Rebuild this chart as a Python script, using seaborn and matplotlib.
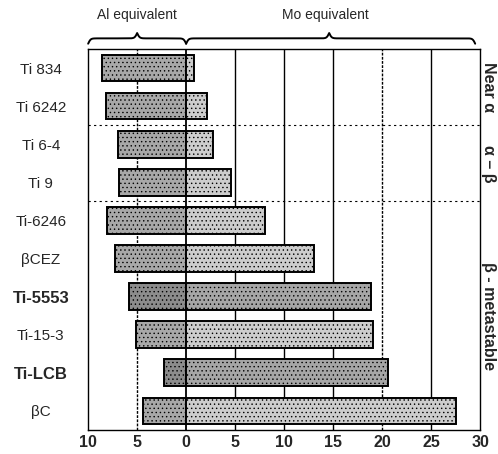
import numpy as np
import pandas as pd
import matplotlib
matplotlib.use("Agg")
import matplotlib.pyplot as plt
import matplotlib.transforms as mtransforms
import seaborn as sns

# --- Data ---
alloys = ["Ti 834", "Ti 6242", "Ti 6-4", "Ti 9", "Ti-6246",
          "\u03b2CEZ", "Ti-5553", "Ti-15-3", "Ti-LCB", "\u03b2C"]
al_eq = [8.6, 8.2, 7.0, 6.9, 8.1, 7.3, 5.8, 5.1, 2.3, 4.4]
mo_eq = [0.8, 2.1, 2.7, 4.6, 8.0, 13.1, 18.9, 19.1, 20.6, 27.5]
bold_alloys = ["Ti-5553", "Ti-LCB"]
group_names = ["Near \u03b1", "\u03b1 \u2013 \u03b2", "\u03b2 - metastable"]
group_centers = [0.5, 2.5, 6.5]
group_breaks = [1.5, 3.5]
xticks = [-10, -5, 0, 5, 10, 15, 20, 25, 30]

df = pd.DataFrame({"alloy": alloys, "al": al_eq, "mo": mo_eq})
df["al_neg"] = -df["al"]

sns.set_style("white")
plt.rcParams["font.family"] = ["Liberation Sans", "DejaVu Sans"]
plt.rcParams["hatch.color"] = "#505050"
plt.rcParams["hatch.linewidth"] = 0.5

fig = plt.figure(figsize=(4.98, 4.54), dpi=100)
ax = fig.add_axes([0.177, 0.053, 0.787, 0.839])

# colours per bar: darker for the highlighted alloys
al_pal = {a: ("#8c8c8c" if a in bold_alloys else "#a8a8a8") for a in alloys}
mo_pal = {a: ("#a6a6a6" if a in bold_alloys else "#cdcdcd") for a in alloys}

sns.barplot(data=df, x="al_neg", y="alloy", hue="alloy", palette=al_pal,
            orient="h", width=0.7, edgecolor="black", linewidth=1.4,
            legend=False, ax=ax, zorder=3)
sns.barplot(data=df, x="mo", y="alloy", hue="alloy", palette=mo_pal,
            orient="h", width=0.7, edgecolor="black", linewidth=1.4,
            legend=False, ax=ax, zorder=3)
for p in ax.patches:
    p.set_hatch("....")

ax.set_xlim(-10, 30)
ax.set_ylim(9.5, -0.5)

# grid lines
for x in xticks[1:-1]:
    ls = (0, (2, 1)) if x in (-5, 20) else "-"
    ax.axvline(x, color="black", lw=1.0 if x else 1.3, ls=ls, zorder=1)
for y in group_breaks:
    ax.axhline(y, color="black", lw=0.8, ls=(0, (2, 3)), zorder=4)

ax.set_xticks(xticks)
ax.set_xticklabels([str(abs(t)) for t in xticks], fontsize=11.5, fontweight="bold")
ax.set_yticks(range(len(alloys)))
ax.set_yticklabels(alloys)
ax.tick_params(axis="y", length=0, pad=34)
ax.tick_params(axis="x", length=0, pad=4)
for lab in ax.get_yticklabels():
    lab.set_ha("center")
    if lab.get_text() in bold_alloys:
        lab.set_fontweight("bold")
        lab.set_fontsize(12)
    else:
        lab.set_fontsize(11)
ax.set_xlabel("")
ax.set_ylabel("")
for s in ax.spines.values():
    s.set_linestyle((0, (1, 1)))
    s.set_linewidth(1.0)
    s.set_color("black")

# group labels on the right
for name, yc in zip(group_names, group_centers):
    ax.text(1.022, yc, name, transform=ax.get_yaxis_transform(),
            rotation=-90, ha="center", va="center", fontsize=11.5,
            fontweight="bold", clip_on=False)

# braces on top
trans = mtransforms.blended_transform_factory(ax.transData, ax.transAxes)


def brace(x0, x1, xtip):
    n = 201
    beta = 8.0
    xl = np.linspace(x0, xtip, n)
    yl = 1 / (1 + np.exp(-beta * (xl - x0))) + 1 / (1 + np.exp(-beta * (xl - xtip)))
    xr = np.linspace(xtip, x1, n)
    yr = 1 / (1 + np.exp(beta * (xr - x1))) + 1 / (1 + np.exp(beta * (xr - xtip)))
    xs = np.concatenate([xl, xr])
    ys = np.concatenate([yl, yr])
    ys = 1.014 + (ys - 0.5) * 0.028
    ax.plot(xs, ys, color="black", lw=1.4, transform=trans, clip_on=False)


brace(-10, 0, -5)
brace(0, 29.5, 14.6)
ax.text(-5, 1.09, "Al equivalent", transform=trans, ha="center", va="center",
        fontsize=10)
ax.text(14.2, 1.09, "Mo equivalent", transform=trans, ha="center", va="center",
        fontsize=10)

fig.savefig("out.png", dpi=100)
